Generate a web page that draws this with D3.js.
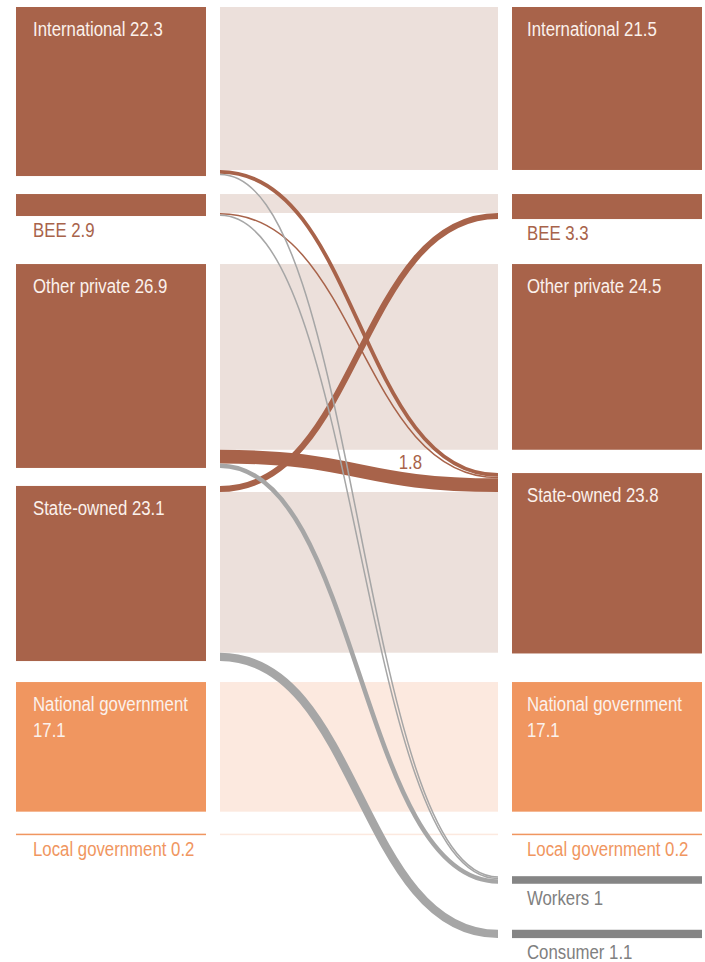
<!DOCTYPE html>
<html>
<head>
<meta charset="utf-8">
<script src="https://cdn.jsdelivr.net/npm/d3@7"></script>
<style>
  html, body { margin: 0; padding: 0; background: #ffffff; }
  svg { display: block; }
</style>
</head>
<body>
<div id="chart"></div>
<script>
// ---------------- DATA ----------------
const leftNames   = ["International", "BEE", "Other private", "State-owned", "National government", "Local government"];
const leftValues  = [22.3, 2.9, 26.9, 23.1, 17.1, 0.2];
const rightNames  = ["International", "BEE", "Other private", "State-owned", "National government", "Local government", "Workers", "Consumer"];
const rightValues = [21.5, 3.3, 24.5, 23.8, 17.1, 0.2, 1, 1.1];
const rowGroups   = ["private", "private", "private", "private", "government", "government", "people", "people"];
// value kept in the same category
const retainedValues = [21.5, 2.5, 24.5, 21.2, 17.1, 0.2];
// changes between categories
const flowFrom   = ["International", "International", "BEE", "BEE", "Other private", "Other private", "State-owned", "State-owned"];
const flowTo     = ["State-owned", "Workers", "State-owned", "Workers", "State-owned", "Workers", "BEE", "Consumer"];
const flowValues = [0.5, 0.2, 0.2, 0.2, 1.8, 0.6, 0.8, 1.1];
const labelledFlows = ["1.8"];

// ---------------- STYLE ----------------
const W = 705, H = 962;
const colors = {
  private:    { node: "#a8634a", band: "#ece0db", flow: "#a8634a", label: "#a8634a" },
  government: { node: "#f09660", band: "#fce9df", flow: "#f09660", label: "#f09660" },
  people:     { node: "#858585", band: "#eeeeee", flow: "#a6a6a6", label: "#808080" }
};
const insideText = "#fbf1ec";
const colL = [16, 206], colM = [220, 498], colR = [512, 702];
const topY = 7;
// spacing after each row: 'col' = per column, 'row' = from lowest node of row (room for label below)
const gapAfter = [{t: "col", g: 18}, {t: "row", g: 45}, {t: "col", g: 18}, {t: "col", g: 21},
                  {t: "col", g: 22}, {t: "row", g: 41}, {t: "row", g: 46}];
const fontSize = 21;
const pad = 16;

const svg = d3.select("#chart").append("svg").attr("width", W).attr("height", H);

// font detection: prefer a narrow face, otherwise compress Liberation Sans horizontally
function measure(fam) {
  const t = svg.append("text").style("font-family", fam).style("font-size", "20px").text("International 22.3");
  const w = t.node().getComputedTextLength(); t.remove(); return w;
}
let fam = "'Liberation Sans', Arial, sans-serif", sx = 0.8;
const wN = measure("'Liberation Sans Narrow'"), wR = measure("'Liberation Sans'");
if (wN / wR < 0.9) { fam = "'Liberation Sans Narrow', 'Liberation Sans', sans-serif"; sx = 0.98; }

// value -> pixel height
const h = d3.scaleLinear().domain([0, 10]).range([0, 75.8]);

// ---------------- LAYOUT ----------------
const idx = name => rightNames.indexOf(name);
const flows = flowValues.map((v, i) => ({ s: idx(flowFrom[i]), t: idx(flowTo[i]), v: v, i: i }));
const rows = rightNames.map((name, r) => ({ r, name, lv: leftValues[r], rv: rightValues[r], kept: retainedValues[r] || 0, g: rowGroups[r] }));

let cL = topY, cR = topY;
rows.forEach((row, r) => {
  const lAbove = d3.sum(flows.filter(f => f.s === r && f.t < r), f => f.v);
  const rAbove = d3.sum(flows.filter(f => f.t === r && f.s < r), f => f.v);
  const hasLeft = row.lv !== undefined;
  const bandTop = hasLeft ? Math.max(cL + h(lAbove), cR + h(rAbove)) : cR + h(rAbove);
  row.bandTop = bandTop;
  row.lTop = bandTop - h(lAbove);
  row.rTop = bandTop - h(rAbove);
  row.lBot = hasLeft ? row.lTop + h(row.lv) : cL;
  row.rBot = row.rTop + h(row.rv);
  row.lAboveC = row.lTop; row.lBelowC = bandTop + h(row.kept);
  row.rAboveC = row.rTop; row.rBelowC = bandTop + h(row.kept);
  const gp = gapAfter[r];
  if (gp) {
    if (gp.t === "col") { cL = row.lBot + gp.g; cR = row.rBot + gp.g; }
    else { const m = Math.max(hasLeft ? row.lBot : 0, row.rBot) + gp.g; cL = m; cR = m; }
  }
});

// assign flow end positions (ordered by the other end's row)
flows.slice().sort((a, b) => a.t - b.t).forEach(f => {
  const row = rows[f.s], w = h(f.v);
  if (f.t < f.s) { f.y0 = row.lAboveC + w / 2; row.lAboveC += w; }
  else { f.y0 = row.lBelowC + w / 2; row.lBelowC += w; }
});
flows.slice().sort((a, b) => a.s - b.s).forEach(f => {
  const row = rows[f.t], w = h(f.v);
  if (f.s < f.t) { f.y1 = row.rAboveC + w / 2; row.rAboveC += w; }
  else { f.y1 = row.rBelowC + w / 2; row.rBelowC += w; }
});

// ---------------- DRAW ----------------
function addText(x, y, str, fill, anchor) {
  return svg.append("text")
    .attr("transform", `translate(${x},${y}) scale(${sx},1)`)
    .attr("text-anchor", anchor || "start")
    .style("font-family", fam).style("font-size", fontSize + "px")
    .attr("fill", fill).text(str);
}
function textW(str) {
  const t = addText(0, -100, str, "none"); const w = t.node().getComputedTextLength() * sx; t.remove(); return w;
}

// retained bands
svg.append("g").selectAll("rect").data(rows.filter(r => r.kept > 0)).join("rect")
  .attr("x", colM[0]).attr("width", colM[1] - colM[0])
  .attr("y", d => d.bandTop).attr("height", d => h(d.kept))
  .attr("fill", d => colors[d.g].band);

// nodes
svg.append("g").selectAll("rect").data(rows.filter(r => r.lv !== undefined)).join("rect")
  .attr("x", colL[0]).attr("width", colL[1] - colL[0])
  .attr("y", d => d.lTop).attr("height", d => h(d.lv))
  .attr("fill", d => colors[d.g].node);
svg.append("g").selectAll("rect").data(rows).join("rect")
  .attr("x", colR[0]).attr("width", colR[1] - colR[0])
  .attr("y", d => d.rTop).attr("height", d => h(d.rv))
  .attr("fill", d => colors[d.g].node);

// flows
const link = d3.linkHorizontal().x(d => d[0]).y(d => d[1]);
const ordered = flows.slice().sort((a, b) => (rows[a.t].g === "people") - (rows[b.t].g === "people"));
svg.append("g").attr("fill", "none").selectAll("path").data(ordered).join("path")
  .attr("d", f => link({ source: [colM[0], f.y0], target: [colM[1], f.y1] }))
  .attr("stroke", f => colors[rows[f.t].g].flow)
  .attr("stroke-width", f => h(f.v));

// flow labels
flows.filter(f => labelledFlows.includes(String(f.v))).forEach(f => {
  const t = 0.73, x0 = colM[0], x1 = colM[1], xm = (x0 + x1) / 2;
  const x = (1 - t) ** 3 * x0 + 3 * (1 - t) ** 2 * t * xm + 3 * (1 - t) * t * t * xm + t ** 3 * x1;
  const y = f.y0 + (f.y1 - f.y0) * (3 * t * t - 2 * t ** 3);
  addText(x, y - h(f.v) / 2 - 4, String(f.v), colors[rows[f.t].g].label, "middle");
});

// node labels
function nodeLabel(name, val, x0, x1, top, bot, g) {
  const str = name + " " + val;
  const big = h(+val) > 40;
  if (big) {
    if (textW(str) > (x1 - x0) - 2 * pad) {
      addText(x0 + pad + 1, top + 29, name, insideText);
      addText(x0 + pad + 1, top + 55, String(val), insideText);
    } else addText(x0 + pad + 1, top + 29, str, insideText);
  } else {
    addText(x0 + pad + 1, bot + 21, str, colors[g].label);
  }
}
rows.forEach(row => {
  if (row.lv !== undefined) nodeLabel(row.name, row.lv, colL[0], colL[1], row.lTop, row.lBot, row.g);
  nodeLabel(row.name, row.rv, colR[0] - 2, colR[1], row.rTop, row.rBot, row.g);
});
</script>
</body>
</html>
